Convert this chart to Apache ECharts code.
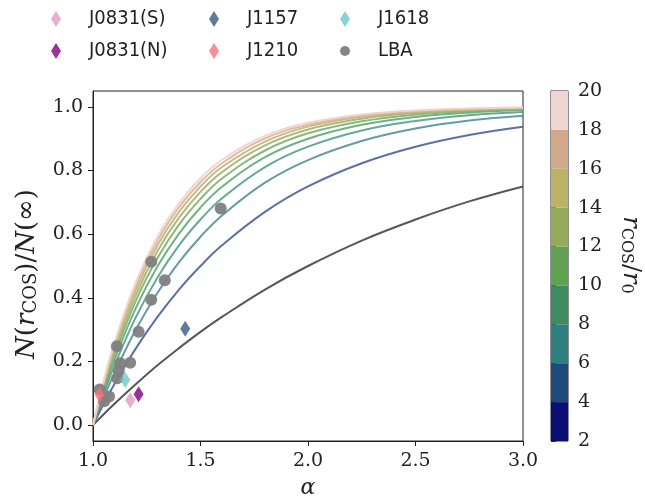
<!DOCTYPE html>
<html>
<head>
<meta charset="utf-8">
<script src="https://cdn.jsdelivr.net/npm/echarts@6/dist/echarts.min.js"></script>
<style>html,body{margin:0;padding:0;background:#fff}#c{width:645px;height:501px}</style>
</head>
<body>
<div id="c"></div>
<script>
// ---- data ----
const alphaGrid = [1.0, 1.05, 1.1, 1.2, 1.3, 1.4, 1.5, 1.6, 1.8, 2.0, 2.25, 2.5, 2.75, 3.0];
const nR2  = [0, 0.034, 0.067, 0.129, 0.188, 0.242, 0.293, 0.340, 0.426, 0.500, 0.580, 0.646, 0.703, 0.750];
const nR4  = [0, 0.067, 0.129, 0.242, 0.340, 0.426, 0.500, 0.565, 0.670, 0.750, 0.823, 0.875, 0.912, 0.938];
const nR6  = [0, 0.086, 0.164, 0.301, 0.416, 0.512, 0.592, 0.659, 0.762, 0.833, 0.893, 0.932, 0.957, 0.972];
const nR8  = [0, 0.099, 0.188, 0.340, 0.464, 0.565, 0.646, 0.713, 0.811, 0.875, 0.926, 0.956, 0.974, 0.984];
const nR10 = [0, 0.109, 0.206, 0.369, 0.499, 0.602, 0.684, 0.749, 0.842, 0.900, 0.944, 0.968, 0.982, 0.990];
const nR12 = [0, 0.117, 0.220, 0.392, 0.525, 0.630, 0.711, 0.775, 0.863, 0.917, 0.955, 0.976, 0.987, 0.993];
const nR14 = [0, 0.124, 0.232, 0.410, 0.547, 0.652, 0.733, 0.795, 0.879, 0.929, 0.963, 0.981, 0.990, 0.995];
const nR16 = [0, 0.129, 0.242, 0.426, 0.565, 0.670, 0.750, 0.811, 0.891, 0.938, 0.969, 0.984, 0.992, 0.996];
const nR18 = [0, 0.135, 0.251, 0.439, 0.580, 0.685, 0.764, 0.823, 0.901, 0.944, 0.973, 0.987, 0.994, 0.997];
const nR20 = [0, 0.139, 0.259, 0.451, 0.593, 0.698, 0.776, 0.834, 0.909, 0.950, 0.976, 0.989, 0.995, 0.998];
const curveNames = ['r2','r4','r6','r8','r10','r12','r14','r16','r18','r20'];
const curveValues = [nR2, nR4, nR6, nR8, nR10, nR12, nR14, nR16, nR18, nR20];

const lbaAlpha = [1.031, 1.052, 1.075, 1.113, 1.120, 1.127, 1.111, 1.173, 1.212, 1.271, 1.334, 1.271, 1.594];
const lbaN     = [0.112, 0.075, 0.090, 0.147, 0.170, 0.194, 0.248, 0.196, 0.293, 0.394, 0.455, 0.513, 0.681];
const j0831sAlpha = [1.173], j0831sN = [0.078];
const j0831nAlpha = [1.212], j0831nN = [0.097];
const j1157Alpha  = [1.429], j1157N  = [0.303];
const j1210Alpha  = [1.031], j1210N  = [0.095];
const j1618Alpha  = [1.150], j1618N  = [0.142];

const xTicks = [1.0, 1.5, 2.0, 2.5, 3.0];
const yTicks = [0.0, 0.2, 0.4, 0.6, 0.8, 1.0];
const cbEdges = [2, 4, 6, 8, 10, 12, 14, 16, 18, 20];

// ---- styles ----
const curveColors = ['#454545','#4a5f9f','#52919c','#57a08a','#62a876','#7eb06c','#a4b46c','#c4b27e','#dcb497','#f0d3cb'];
const binColors = ['#0b0f74','#1e4b7a','#2e7f80','#3e8b62','#62a151','#94ac5a','#bbb468','#cfa989','#efd6d2'];
const serif = 'DejaVu Serif';
const legendFont = "'Liberation Sans Narrow', 'DejaVu Sans Condensed', 'Liberation Sans', sans-serif";
const diamond = 'path://M5,0L10,8L5,16L0,8Z';

const pairs = (xs, ys) => xs.map((x, i) => [x, ys[i]]);

const series = [];
curveValues.forEach((vals, k) => {
  series.push({
    name: curveNames[k], type: 'line', xAxisIndex: 0, yAxisIndex: 0,
    data: pairs(alphaGrid, vals), smooth: 0.4,
    showSymbol: false, symbol: 'none', silent: true, z: 2,
    lineStyle: { color: curveColors[k], width: 2, opacity: 0.9 }
  });
});
series.push({ name: 'LBA', type: 'scatter', data: pairs(lbaAlpha, lbaN), symbol: 'circle', symbolSize: 12,
  itemStyle: { color: '#808080', opacity: 0.95 }, z: 3 });
const dia = (name, xs, ys, color) => ({ name, type: 'scatter', data: pairs(xs, ys), symbol: diamond,
  symbolSize: [10, 16], itemStyle: { color }, z: 4 });
series.push(dia('J0831(S)', j0831sAlpha, j0831sN, '#e09ac4'));
series.push(dia('J0831(N)', j0831nAlpha, j0831nN, '#800080'));
series.push(dia('J1157', j1157Alpha, j1157N, '#3a5b82'));
series.push(dia('J1210', j1210Alpha, j1210N, '#f5707e'));
series.push(dia('J1618', j1618Alpha, j1618N, '#6ac9c9'));

// colorbar
series.push({
  type: 'custom', xAxisIndex: 1, yAxisIndex: 1, silent: true,
  data: cbEdges.slice(0, -1).map((lo, i) => [lo, cbEdges[i + 1], i]),
  renderItem: (params, api) => {
    const p0 = api.coord([0, api.value(0)]);
    const p1 = api.coord([1, api.value(1)]);
    return { type: 'rect', shape: { x: p0[0], y: p1[1], width: p1[0] - p0[0], height: p0[1] - p1[1] },
      style: { fill: binColors[api.value(2)] } };
  }
});

const legendBase = {
  orient: 'vertical', itemWidth: 10, itemHeight: 16, itemGap: 12,
  formatter: n => '{g|}' + n,
  textStyle: { fontFamily: legendFont, fontSize: 20, color: '#222', lineHeight: 20,
    rich: { g: { width: 23 } } }
};

const mathRich = (big, small) => ({
  i: { fontFamily: serif, fontStyle: 'italic', fontSize: big, color: '#222' },
  n: { fontFamily: serif, fontSize: big, color: '#222' },
  s: { fontFamily: serif, fontSize: small, color: '#222', verticalAlign: 'bottom', padding: [8, 0, 0, 0] }
});

const option = {
  animation: false,
  backgroundColor: '#fff',
  legend: [
    Object.assign({}, legendBase, { left: 46, top: 4, data: ['J0831(S)', 'J0831(N)'] }),
    Object.assign({}, legendBase, { left: 204, top: 4, data: ['J1157', 'J1210'] }),
    Object.assign({}, legendBase, { left: 335, top: 4, data: ['J1618', 'LBA'] })
  ],
  graphic: [{
    type: 'text', x: 630, y: 255, rotation: -Math.PI / 2,
    style: { text: '{i|r}{s|COS}{n|/}{i|r}{s|0}', rich: mathRich(24, 16), align: 'center', verticalAlign: 'middle',
      fontFamily: serif, fontSize: 24, fill: '#222' }
  }],
  grid: [
    { left: 93, right: 122, top: 91, bottom: 60, show: true, borderColor: '#222', borderWidth: 1,
      containLabel: false, outerBoundsMode: 'none' },
    { left: 551, width: 17, top: 91, bottom: 60, show: true, borderColor: '#222', borderWidth: 1,
      containLabel: false, outerBoundsMode: 'none' }
  ],
  xAxis: [
    { type: 'value', gridIndex: 0, min: 1, max: 3, interval: 0.5,
      name: 'α', nameLocation: 'middle', nameGap: 36,
      nameTextStyle: { fontFamily: serif, fontStyle: 'italic', fontSize: 22, color: '#222' },
      axisLine: { show: true, onZero: false, lineStyle: { color: '#222', width: 1 } },
      axisTick: { show: true, inside: false, length: 5, lineStyle: { color: '#222' }, customValues: xTicks },
      axisLabel: { fontFamily: serif, fontSize: 19, color: '#222', margin: 11, customValues: xTicks,
        formatter: v => v.toFixed(1) },
      splitLine: { show: false } },
    { type: 'value', gridIndex: 1, min: 0, max: 1, show: false }
  ],
  yAxis: [
    { type: 'value', gridIndex: 0, min: -0.05, max: 1.05,
      name: '{i|N}{n|(}{i|r}{s|COS}{n|)/}{i|N}{n|(∞)}', nameLocation: 'middle', nameGap: 53,
      nameTextStyle: { fontFamily: serif, fontSize: 26, color: '#222', rich: mathRich(26, 18), padding: [0, 16, 0, 0] },
      axisLine: { show: true, onZero: false, lineStyle: { color: '#222', width: 1 } },
      axisTick: { show: true, inside: false, length: 5, lineStyle: { color: '#222' }, customValues: yTicks },
      axisLabel: { fontFamily: serif, fontSize: 19, color: '#222', margin: 10, customValues: yTicks,
        formatter: v => v.toFixed(1) },
      splitLine: { show: false } },
    { type: 'value', gridIndex: 1, min: 2, max: 20, interval: 2, position: 'right',
      axisLine: { show: true, lineStyle: { color: '#222', width: 1 } },
      axisTick: { show: true, inside: false, length: 5, lineStyle: { color: '#222' } },
      axisLabel: { fontFamily: serif, fontSize: 19, color: '#222', margin: 10 },
      splitLine: { show: false } }
  ],
  series
};

const chart = echarts.init(document.getElementById('c'), null, { renderer: 'canvas' });
chart.setOption(option);
</script>
</body>
</html>
